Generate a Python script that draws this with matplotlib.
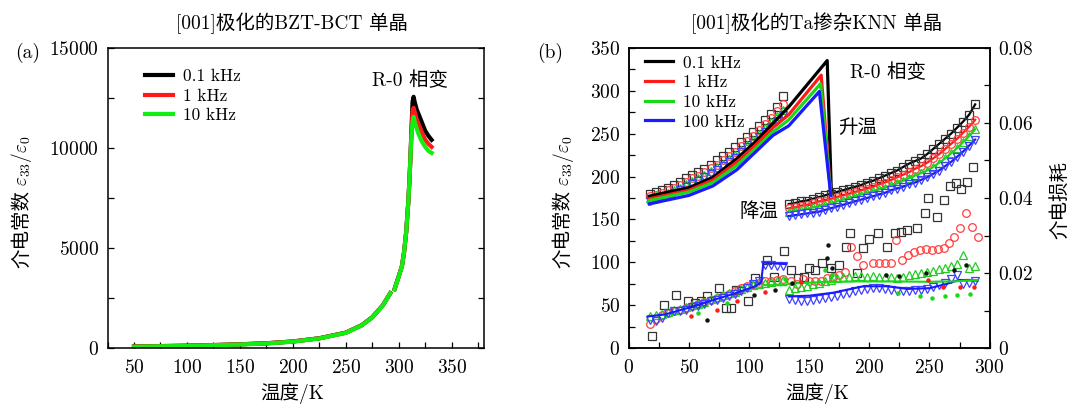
import matplotlib
matplotlib.use("Agg")
import matplotlib.pyplot as plt
import numpy as np
from matplotlib.ticker import MultipleLocator, FormatStrFormatter

plt.rcParams['font.family'] = ['cmr10', 'Noto Sans CJK SC']
plt.rcParams['mathtext.fontset'] = 'cm'
plt.rcParams['axes.formatter.use_mathtext'] = True
plt.rcParams['axes.unicode_minus'] = False

nan = np.nan

# ---------------- panel (a): [001] poled BZT-BCT ----------------
T_a = [50, 75, 100, 125, 150, 175, 200, 225, 250, 265, 275, 285, 292, nan,
       296, 300, 303, 305, 307, 309, 310, 311, 312, 313, 314, 315, 317, 319,
       322, 325, 328, 331]
eps_a_01 = [90, 110, 130, 160, 200, 250, 340, 500, 780, 1150, 1550, 2150, 2750, nan,
            2950, 3600, 4100, 4800, 5800, 7300, 8300, 9500, 10900, 12300, 12550, 12300,
            11900, 11650, 11250, 10850, 10600, 10400]
eps_a_1 = [90, 110, 130, 160, 200, 250, 340, 500, 780, 1150, 1550, 2150, 2750, nan,
           2950, 3600, 4100, 4800, 5800, 7300, 8300, 9500, 10800, 11800, 12000, 11800,
           11400, 11150, 10750, 10400, 10200, 10050]
eps_a_10 = [80, 100, 120, 150, 190, 240, 330, 490, 770, 1140, 1540, 2140, 2740, nan,
            2940, 3590, 4090, 4790, 5790, 7290, 8290, 9490, 10600, 11300, 11550, 11300,
            10950, 10650, 10300, 10050, 9850, 9750]

# ---------------- panel (b): [001] poled Ta-doped KNN ----------------
freqs = ['0.1 kHz', '1 kHz', '10 kHz', '100 kHz']

# heating (solid lines)
T_heat_01 = [17, 30, 50, 70, 90, 105, 120, 133, 165, 168.5]
eps_heat_01 = [177, 181, 187, 199, 221, 240, 262, 281, 335, 180]
T_heat_1 = [17, 30, 50, 70, 90, 105, 120, 133, 160, 168]
eps_heat_1 = [174, 178, 184, 196, 217, 236, 257, 272, 318, 180]
T_heat_10 = [17, 30, 50, 70, 90, 105, 120, 133, 159.5, 168]
eps_heat_10 = [172, 176, 182, 193, 213, 232, 252, 266, 308, 179]
T_heat_100 = [17, 30, 50, 70, 90, 105, 120, 133, 158.5, 168]
eps_heat_100 = [168, 172, 178, 189, 208, 228, 248, 259, 299, 178]

# cooling, rhombohedral branch (open symbols)
T_cool_hi = [18, 23, 28, 33, 38, 43, 48, 53, 58, 63, 68, 73, 78, 83, 88, 93, 98,
             103, 108, 113, 118, 123, 128]
eps_hi_01 = [180, 182, 184, 187, 190, 194, 198, 202, 205, 209, 214, 219, 224, 229,
             234, 240, 246, 252, 259, 266, 273, 281, 294]
eps_hi_1 = [177, 179, 181, 184, 187, 190, 194, 198, 201, 205, 210, 214, 219, 224,
            229, 235, 241, 247, 254, 261, 268, 276, 285]
eps_hi_10 = [175, 177, 179, 181, 184, 187, 191, 195, 198, 202, 206, 211, 215, 220,
             225, 231, 237, 243, 250, 256, 263, 270, 278]
eps_hi_100 = [172, 174, 176, 178, 181, 184, 188, 191, 195, 199, 203, 208, 212, 217,
              222, 228, 234, 239, 246, 252, 258, 265, 272]

# cooling, orthorhombic branch (line + open symbols)
T_cool_lo = [133, 138, 143, 148, 153, 158, 163, 168, 173, 178, 183, 188, 193, 198,
             203, 208, 213, 218, 223, 228, 233, 238, 243, 248, 253, 258, 263, 268,
             273, 278, 283, 288]
eps_lo_01 = [168, 169, 171, 172, 174, 176, 178, 180, 182, 184, 186, 188, 190, 193,
             195, 198, 201, 204, 207, 211, 215, 218, 221, 226, 232, 238, 244, 250,
             257, 264, 272, 284]
eps_lo_1 = [163, 164, 166, 167, 169, 171, 172, 174, 176, 178, 180, 182, 184, 186,
            188, 191, 193, 196, 199, 202, 205, 209, 212, 216, 221, 226, 232, 238,
            244, 251, 258, 266]
eps_lo_10 = [159, 160, 161, 162, 164, 165, 167, 169, 171, 173, 175, 177, 179, 181,
             183, 185, 187, 190, 192, 195, 198, 201, 204, 207, 211, 216, 221, 227,
             233, 240, 247, 255]
eps_lo_100 = [154, 155, 156, 157, 158, 159, 161, 163, 165, 167, 169, 171, 173, 175,
              177, 179, 181, 184, 186, 188, 191, 193, 196, 199, 203, 207, 212, 217,
              223, 229, 236, 243]

# dielectric loss (right axis), open symbols
loss_T_01 = [19, 29, 39, 49, 55, 60, 65, 75, 81, 85, 89, 99, 105, 115, 121, 129,
             135, 141, 146, 150, 155, 161, 168, 175, 181, 184, 190, 195, 200, 207,
             215, 221, 226, 231, 240, 246, 249, 256, 262, 267, 272, 276, 281, 286]
loss_01 = [0.0033, 0.0114, 0.0143, 0.0125, 0.0121, 0.0127, 0.0138, 0.016, 0.0108,
           0.0108, 0.0156, 0.0125, 0.0187, 0.0235, 0.019, 0.026,
           0.0209, 0.0186, 0.019, 0.0215, 0.0209, 0.0227, 0.0213, 0.0222, 0.027,
           0.0306, 0.020, 0.0266, 0.029, 0.0306, 0.027, 0.0306, 0.031, 0.0315,
           0.032, 0.036, 0.0399, 0.035, 0.0394, 0.0433, 0.044, 0.0425, 0.0443, 0.0483]
loss_T_1 = [18, 23, 28, 33, 38, 43, 48, 53, 58, 63, 68, 73, 78, 83, 88, 93, 98, 103,
            108, 113, 118, 123, 128,
            135, 140, 145, 150, 155, 160, 165, 170, 175, 180, 185, 190, 195, 203,
            208, 213, 218, 222, 227, 232, 237, 242, 247, 252, 257, 262, 266, 270,
            275, 280, 285, 290]
loss_1 = [0.0066, 0.0078, 0.0088, 0.0094, 0.0098, 0.0102, 0.0108, 0.0112, 0.0117,
          0.0122, 0.0128, 0.0135, 0.014, 0.0145, 0.0152, 0.016, 0.0165, 0.017,
          0.0175, 0.0178, 0.018, 0.0182, 0.0185,
          0.0178, 0.0172, 0.0185, 0.018, 0.0178, 0.018, 0.0188, 0.019, 0.0195,
          0.0202, 0.027, 0.0246, 0.0222, 0.0227, 0.0228, 0.0226, 0.0227, 0.0288,
          0.0236, 0.0248, 0.0255, 0.0262, 0.0265, 0.0262, 0.0264, 0.0266, 0.028,
          0.0296, 0.0319, 0.0359, 0.0324, 0.0297]
loss_10_hi = [0.0085, 0.0088, 0.0092, 0.0097, 0.0101, 0.0105, 0.011, 0.0114, 0.0119,
              0.0124, 0.013, 0.0136, 0.0141, 0.0146, 0.0151, 0.0157, 0.0163, 0.0168,
              0.0172, 0.0175, 0.0177, 0.018, 0.0183]
loss_10_lo = [0.0155, 0.016, 0.0162, 0.0165, 0.017, 0.0175, 0.018, 0.0183, 0.0188,
              0.019, 0.019, 0.0192, 0.0192, 0.019, 0.0192, 0.019, 0.0191, 0.019,
              0.0188, 0.019, 0.0195, 0.0198, 0.02, 0.0203, 0.0205, 0.021, 0.0215,
              0.022, 0.0225, 0.0248, 0.0215, 0.022]
loss_100_hi = [0.0075, 0.0072, 0.008, 0.0095, 0.0098, 0.0098, 0.0102, 0.011, 0.0112,
               0.0118, 0.0125, 0.0128, 0.0135, 0.014, 0.0145, 0.0152, 0.016, 0.017,
               0.0178, 0.0222, 0.0222, 0.0218, 0.0218]
loss_100_lo = [0.013, 0.0128, 0.0126, 0.0126, 0.0128, 0.013, 0.0133, 0.0137, 0.014,
               0.0145, 0.0148, 0.0152, 0.0156, 0.0158, 0.016, 0.016, 0.0158, 0.0155,
               0.0153, 0.0152, 0.0152, 0.0154, 0.0156, 0.0158, 0.0162, 0.0168, 0.0175,
               0.0185, 0.0195, 0.0172, 0.0175, 0.018]

# dielectric loss, heating (lines / small dots)
loss_heat_T_100 = [16, 30, 50, 70, 90, 105, 110, 112, 120, 131, nan,
                   133, 150, 170, 195, 215, 232, 250, 265, 275, 290]
loss_heat_100 = [0.0085, 0.009, 0.0108, 0.0128, 0.0148, 0.0165, 0.0175, 0.0228,
                 0.0226, 0.0224, nan, 0.0138, 0.014, 0.0148, 0.0165, 0.0165, 0.0158,
                 0.016, 0.0172, 0.0182, 0.018]
loss_heat_T_10 = [113, 131, nan, 133, 160, 190, 220, 250, 270, 290]
loss_heat_10 = [0.0168, 0.0168, nan, 0.0172, 0.0176, 0.0178, 0.0178, 0.0177,
                0.0178, 0.0182]
dot_T_01 = [65, 104, 122, 136, 165, 166, 169, 214, 225, 247, 270, 280]
dot_01 = [0.0075, 0.0142, 0.0155, 0.0173, 0.024, 0.0275, 0.0213, 0.0195, 0.0192,
          0.02, 0.0208, 0.0222]
dot_T_1 = [52, 73, 90, 113, 143, 249, 261, 275, 287]
dot_1 = [0.0087, 0.0102, 0.0125, 0.0151, 0.0177, 0.0182, 0.0164, 0.0164, 0.0164]
dot_T_10 = [58, 82, 130, 163, 169, 224, 242, 252, 263, 273, 284]
dot_10 = [0.0093, 0.012, 0.0185, 0.0208, 0.0195, 0.0148, 0.0139, 0.0135, 0.0139,
          0.0142, 0.0144]

C_K, C_R, C_G, C_B = '#000000', '#ff1a1a', '#18d818', '#1a1aff'
FS = 14
W, H = 1069, 405


def style(ax):
    for s in ax.spines.values():
        s.set_linewidth(1.1)
    ax.tick_params(which='both', direction='in', labelsize=FS, width=0.9, pad=6)
    ax.tick_params(axis='x', which='both', pad=7.5)
    ax.tick_params(which='major', length=4)
    ax.tick_params(which='minor', length=4)


def ftext(x, y, s, **kw):
    # place text by pixel position in the 1069x405 picture
    kw.setdefault('fontsize', FS)
    fig.text(x / W, 1 - y / H, s, ha='center', va='center', **kw)


fig = plt.figure(figsize=(W / 100, H / 100), dpi=100)
bot, hgt = 1 - 348.3 / H, 300.6 / H

# ---- (a)
ax = fig.add_axes([107.5 / W, bot, (483.5 - 107.5) / W, hgt])
ax.plot(T_a, eps_a_01, color=C_K, lw=3, label='0.1 kHz')
ax.plot(T_a, eps_a_1, color=C_R, lw=3, label='1 kHz')
ax.plot(T_a, eps_a_10, color='#11ee11', lw=3, label='10 kHz')
ax.set_xlim(25, 380)
ax.set_ylim(0, 15000)
ax.xaxis.set_major_locator(MultipleLocator(50))
ax.xaxis.set_minor_locator(MultipleLocator(25))
ax.yaxis.set_major_locator(MultipleLocator(5000))
ax.yaxis.set_minor_locator(MultipleLocator(2500))
style(ax)
ax.tick_params(which='both', right=True)
ax.legend(frameon=False, loc='upper left', bbox_to_anchor=(0.1, 0.93),
          fontsize=12.5, handlelength=1.6, handletextpad=0.6, labelspacing=0.25,
          borderpad=0, borderaxespad=0)
ftext(410, 81, 'R-0 相变')

# ---- (b)
bx = fig.add_axes([628.7 / W, bot, (989.6 - 628.7) / W, hgt])
rx = bx.twinx()
mk = dict(ls='none', mfc='none', ms=5.5, mew=0.9)
rx.plot(loss_T_01, loss_01, marker='s', mec='#333333', **mk)
rx.plot(loss_T_1, loss_1, marker='o', mec='#ff4040', **mk)
rx.plot(T_cool_hi, loss_10_hi, marker='^', mec='#22cc22', **mk)
rx.plot(T_cool_lo, loss_10_lo, marker='^', mec='#22cc22', **mk)
rx.plot(T_cool_hi, loss_100_hi, marker='v', mec='#4040ff', **mk)
rx.plot(T_cool_lo, loss_100_lo, marker='v', mec='#4040ff', **mk)
rx.plot(loss_heat_T_100, loss_heat_100, color=C_B, lw=1.5)
rx.plot(loss_heat_T_10, loss_heat_10, color=C_G, lw=1.5)
rx.plot(dot_T_01, dot_01, ls='none', marker='o', ms=2.2, color='#111111')
rx.plot(dot_T_1, dot_1, ls='none', marker='o', ms=2.2, color=C_R)
rx.plot(dot_T_10, dot_10, ls='none', marker='o', ms=2.2, color=C_G)
rx.set_ylim(0, 0.08)
rx.yaxis.set_major_locator(MultipleLocator(0.02))
rx.yaxis.set_minor_locator(MultipleLocator(0.01))
rx.yaxis.set_major_formatter(FormatStrFormatter('%g'))
style(rx)

bx.plot(T_cool_hi, eps_hi_01, marker='s', mec='#333333', **mk)
bx.plot(T_cool_hi, eps_hi_1, marker='o', mec='#ff4040', **mk)
bx.plot(T_cool_hi, eps_hi_10, marker='^', mec='#22cc22', **mk)
bx.plot(T_cool_hi, eps_hi_100, marker='v', mec='#4040ff', **mk)
for vals, c, m, mc in [(eps_lo_01, C_K, 's', '#333333'), (eps_lo_1, C_R, 'o', '#ff4040'),
                       (eps_lo_10, C_G, '^', '#22cc22'), (eps_lo_100, C_B, 'v', '#4040ff')]:
    bx.plot(T_cool_lo, vals, color=c, lw=1.6)
    bx.plot(T_cool_lo, vals, marker=m, mec=mc, **mk)
hl = []
for tt, vv, c, lab in [(T_heat_01, eps_heat_01, C_K, freqs[0]),
                       (T_heat_1, eps_heat_1, C_R, freqs[1]),
                       (T_heat_10, eps_heat_10, C_G, freqs[2]),
                       (T_heat_100, eps_heat_100, C_B, freqs[3])]:
    hl += bx.plot(tt, vv, color=c, lw=2.3, label=lab)
bx.set_xlim(0, 300)
bx.set_ylim(0, 350)
bx.xaxis.set_major_locator(MultipleLocator(50))
bx.xaxis.set_minor_locator(MultipleLocator(25))
bx.yaxis.set_major_locator(MultipleLocator(50))
bx.yaxis.set_minor_locator(MultipleLocator(25))
style(bx)
bx.set_zorder(rx.get_zorder() + 1)
bx.patch.set_visible(False)
bx.legend(handles=hl, frameon=False, loc='upper left', bbox_to_anchor=(0.045, 0.975),
          fontsize=12.5, handlelength=1.6, handletextpad=0.6, labelspacing=0.25,
          borderpad=0, borderaxespad=0)
ftext(888, 73, 'R-0 相变')
ftext(858, 128, '升温')
ftext(759, 212, '降温')

# ---- titles, labels
ftext(292, 23, '[001]极化的BZT-BCT 单晶')
ftext(817, 23, '[001]极化的Ta掺杂KNN 单晶')
ftext(292, 393, '温度/K')
ftext(817, 393, '温度/K')
ftext(28, 53, '(a)')
ftext(550, 53, '(b)')
for x in (22, 563):
    ftext(x, 229, '介电常数', rotation=90)
    ftext(x, 161, '$\\varepsilon_{33}/\\varepsilon_0$', rotation=90)
ftext(1060, 200, '介电损耗', rotation=90)

fig.savefig('out.png', dpi=100)
